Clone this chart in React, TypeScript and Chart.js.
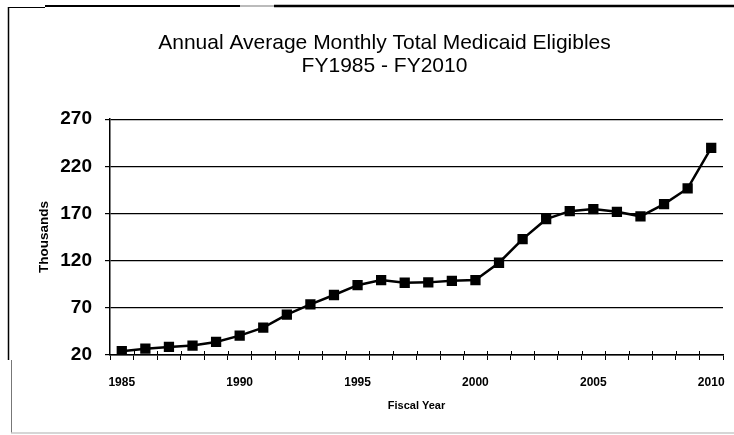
import React, { useEffect, useRef } from "react";
import { Chart, registerables } from "chart.js";

Chart.register(...registerables);

const years: string[] = [
  "1985", "1986", "1987", "1988", "1989", "1990", "1991", "1992", "1993",
  "1994", "1995", "1996", "1997", "1998", "1999", "2000", "2001", "2002",
  "2003", "2004", "2005", "2006", "2007", "2008", "2009", "2010",
];
const eligibles: number[] = [
  24, 26.7, 28.5, 30, 33.8, 40.5, 49, 62.7, 73.7, 83.6, 94, 99.4, 96.6, 97,
  98.7, 99.4, 117.8, 142.9, 164, 172.5, 174.7, 171.8, 167, 180, 196.6, 239.6,
];
const titleLines: string[] = [
  "Annual Average Monthly Total Medicaid Eligibles",
  "FY1985 - FY2010",
];
const yMin = 20;
const yMax = 270;
const yStep = 50;
const labeledYears: string[] = ["1985", "1990", "1995", "2000", "2005", "2010"];

const FONT = "'Liberation Sans', Arial, sans-serif";

const framePlugin = {
  id: "frame",
  beforeDraw(chart: any) {
    const ctx = chart.ctx;
    ctx.save();
    ctx.fillStyle = "#ffffff";
    ctx.fillRect(0, 0, chart.width, chart.height);
    ctx.lineCap = "butt";
    ctx.strokeStyle = "#000";
    ctx.lineWidth = 1;
    ctx.beginPath();
    ctx.moveTo(8, 7.5);
    ctx.lineTo(45, 7.5);
    ctx.stroke();
    ctx.lineWidth = 2;
    ctx.beginPath();
    ctx.moveTo(45, 6);
    ctx.lineTo(240, 6);
    ctx.stroke();
    ctx.strokeStyle = "#bbbbbb";
    ctx.beginPath();
    ctx.moveTo(240, 6);
    ctx.lineTo(274, 6);
    ctx.stroke();
    ctx.strokeStyle = "#000";
    ctx.lineWidth = 2.5;
    ctx.beginPath();
    ctx.moveTo(274, 6);
    ctx.lineTo(734, 6);
    ctx.stroke();
    ctx.lineWidth = 1.5;
    ctx.beginPath();
    ctx.moveTo(8.5, 7);
    ctx.lineTo(8.5, 360);
    ctx.stroke();
    ctx.strokeStyle = "#777";
    ctx.lineWidth = 1;
    ctx.beginPath();
    ctx.moveTo(11.5, 360);
    ctx.lineTo(11.5, 433);
    ctx.stroke();
    ctx.strokeStyle = "#c8c8c8";
    ctx.lineWidth = 1.5;
    ctx.beginPath();
    ctx.moveTo(11, 433);
    ctx.lineTo(734, 433);
    ctx.stroke();
    ctx.restore();
  },
  afterDatasetsDraw(chart: any) {
    const x = chart.scales.x;
    const ctx = chart.ctx;
    const yAxis = x.top;
    ctx.save();
    ctx.strokeStyle = "#000";
    ctx.lineWidth = 1;
    const n = years.length;
    for (let i = 1; i < n; i++) {
      const px = (x.getPixelForValue(i - 1) + x.getPixelForValue(i)) / 2;
      const xx = Math.round(px) + 0.5;
      ctx.beginPath();
      ctx.moveTo(xx, yAxis - 4);
      ctx.lineTo(xx, yAxis);
      ctx.stroke();
    }
    ctx.restore();
  },
};

export default function App() {
  const canvasRef = useRef<HTMLCanvasElement | null>(null);

  useEffect(() => {
    if (!canvasRef.current) return;
    const chart = new Chart(canvasRef.current, {
      type: "line",
      data: {
        labels: years,
        datasets: [
          {
            label: "Eligibles",
            data: eligibles,
            borderColor: "#000",
            backgroundColor: "#000",
            borderWidth: 2.5,
            pointStyle: "rect",
            pointRadius: 5.5,
            pointHoverRadius: 5.5,
            pointBackgroundColor: "#000",
            pointBorderColor: "#000",
            tension: 0,
          },
        ],
      },
      options: {
        animation: false,
        responsive: false,
        maintainAspectRatio: false,
        layout: { padding: { left: 46, right: 11, top: 0, bottom: 0 } },
        plugins: {
          legend: { display: false },
          tooltip: { enabled: false },
          title: {
            display: true,
            text: titleLines,
            color: "#000",
            font: { family: FONT, size: 21, weight: "normal", lineHeight: 1.1 },
            padding: { top: 31.5, bottom: 41.5 },
          },
        },
        scales: {
          x: {
            type: "category",
            offset: true,
            afterFit(scale: any) {
              scale.height = 80;
              scale.paddingLeft = 0;
              scale.paddingRight = 0;
            },
            grid: {
              display: true,
              drawOnChartArea: false,
              drawTicks: true,
              tickLength: 5,
              offset: true,
              color: "#000",
              lineWidth: 1,
            },
            border: { display: true, color: "#000", width: 1.5 },
            ticks: {
              autoSkip: false,
              maxRotation: 0,
              color: "#000",
              padding: 15,
              font: { family: FONT, size: 12, weight: "bold" },
              callback(_v: any, i: number) {
                const y = years[i];
                return labeledYears.includes(y) ? y : "";
              },
            },
            title: {
              display: true,
              text: "Fiscal Year",
              color: "#000",
              font: { family: FONT, size: 11, weight: "bold" },
              padding: { top: 0, bottom: 22.5 },
            },
          },
          y: {
            min: yMin,
            max: yMax,
            afterFit(scale: any) {
              scale.width = 64;
            },
            ticks: {
              stepSize: yStep,
              color: "#000",
              padding: 13,
              font: { family: FONT, size: 19, weight: "bold" },
            },
            grid: {
              color: "#000",
              lineWidth: 1.2,
              tickLength: 5,
            },
            border: { display: true, color: "#000", width: 1.5 },
            title: {
              display: true,
              text: "Thousands",
              color: "#000",
              font: { family: FONT, size: 13.5, weight: "bold" },
              padding: { top: -10, bottom: 0 },
            },
          },
        },
      },
      plugins: [framePlugin],
    });
    return () => chart.destroy();
  }, []);

  return (
    <div style={{ position: "fixed", left: 0, top: 0, width: 734, height: 435 }}>
      <canvas ref={canvasRef} width={734} height={435} style={{ width: 734, height: 435 }} />
    </div>
  );
}
